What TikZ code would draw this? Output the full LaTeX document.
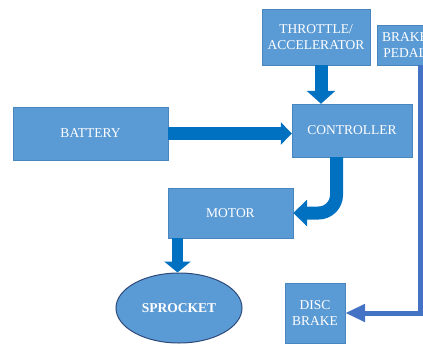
\documentclass[tikz,border=0pt]{standalone}
\usepackage{fontspec}
\setmainfont{Liberation Serif}
\usetikzlibrary{arrows.meta,shapes.geometric}
\definecolor{boxblue}{HTML}{5B9BD5}
\definecolor{boxedge}{HTML}{4A86BE}
\definecolor{arrblue}{HTML}{0070C0}
\definecolor{linkblue}{HTML}{4472C4}
\definecolor{ovaledge}{HTML}{2E4A7A}
\begin{document}
\begin{tikzpicture}[x=1pt,y=-1pt,
  box/.style={draw=boxedge,fill=boxblue,text=white,inner sep=0pt,align=center,
    font=\fontsize{13.5}{16.5}\selectfont},
  fat/.style={draw=arrblue,line width=#1},
  fat/.default=13pt]
\useasboundingbox (0,0) rectangle (423,343);
\node[box,minimum width=108,minimum height=56] (throttle) at (316,37) {THROTTLE/\\ACCELERATOR};
\node[box,minimum width=56,minimum height=40] (brakepedal) at (405,45) {BRAKE\\PEDAL};
\node[box,minimum width=155,minimum height=53] (battery) at (90.5,133.5) {BATTERY};
\node[box,minimum width=120,minimum height=53] (controller) at (352,130.5) {CONTROLLER};
\node[box,minimum width=125,minimum height=50] (motor) at (230.5,213) {MOTOR};
\node[box,ellipse,draw=ovaledge,line width=1pt,minimum width=126,minimum height=70,
  font=\fontsize{13.5}{16.5}\selectfont\bfseries] (sprocket) at (179,308) {SPROCKET};
\node[box,minimum width=60,minimum height=60] (discbrake) at (315,313) {DISC\\BRAKE};
% thick arrows
\draw[fat,-{Triangle[length=13pt,width=28pt]}] ([xshift=5]throttle.south) -- ([xshift=5]throttle.south |- controller.north);
\draw[fat,-{Triangle[length=11pt,width=22pt]}] (battery) -- (battery -| controller.west);
\draw[fat,rounded corners=18pt,-{Triangle[length=14pt,width=26pt]}] ([xshift=-15.5]controller.south) |- (motor.east);
\draw[fat=11pt,-{Triangle[length=11pt,width=26pt]}] ([xshift=-53]motor.south) -- ([xshift=-53]motor.south |- sprocket.north);
% brake line
\draw[linkblue,line width=5pt,-{Triangle[length=20pt,width=17pt]}] ([xshift=15]brakepedal.south) |- (discbrake.east);
\end{tikzpicture}
\end{document}
